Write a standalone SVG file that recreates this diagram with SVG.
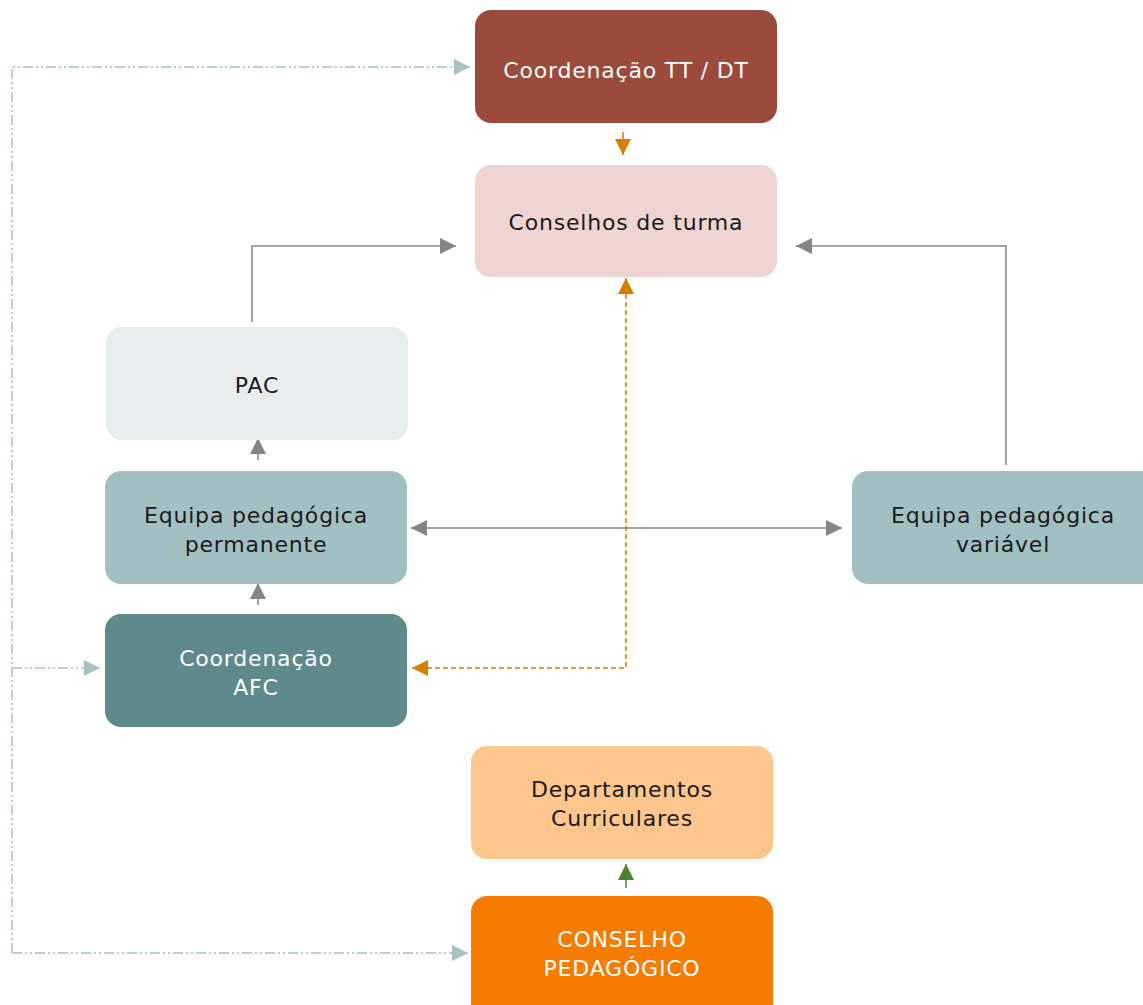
<svg xmlns="http://www.w3.org/2000/svg" width="1143" height="1005" viewBox="0 0 1143 1005">
<defs>
<style>
.t{font-family:"DejaVu Sans","Liberation Sans",sans-serif;font-size:22px;letter-spacing:0.8px;text-anchor:middle}
.w{fill:#ffffff}
.d{fill:#1a1a1a}
.g{fill:none;stroke:#858585;stroke-width:1.5}
.b{fill:none;stroke:#a7c2c3;stroke-width:1.5;stroke-dasharray:10 3 2 3 2 3}
.o{fill:none;stroke:#d47f00;stroke-width:1.5;stroke-dasharray:5 3}
</style>
<marker id="agl" viewBox="0 0 16 16" refX="16" refY="8" markerWidth="16" markerHeight="16" markerUnits="userSpaceOnUse" orient="auto-start-reverse"><path d="M0,0 L16,8 L0,16 z" fill="#858585"/></marker>
<marker id="ab" viewBox="0 0 16 16" refX="16" refY="8" markerWidth="16" markerHeight="16" markerUnits="userSpaceOnUse" orient="auto"><path d="M0,0 L16,8 L0,16 z" fill="#a7c2c3"/></marker>
<marker id="ao" viewBox="0 0 16 16" refX="16" refY="8" markerWidth="16" markerHeight="16" markerUnits="userSpaceOnUse" orient="auto-start-reverse"><path d="M0,0 L16,8 L0,16 z" fill="#d47f00"/></marker>
<marker id="agr" viewBox="0 0 16 16" refX="16" refY="8" markerWidth="16" markerHeight="16" markerUnits="userSpaceOnUse" orient="auto"><path d="M0,0 L16,8 L0,16 z" fill="#4e8030"/></marker>
</defs>
<rect width="1143" height="1005" fill="#ffffff"/>
<g id="connectors">
<path class="b" d="M12,953 V67 H470" marker-end="url(#ab)"/>
<path class="b" d="M12,668 H100" marker-end="url(#ab)"/>
<path class="b" d="M12,953 H468" marker-end="url(#ab)"/>
<path d="M623,132 V155" fill="none" stroke="#d47f00" stroke-width="1.5" marker-end="url(#ao)"/>
<path class="g" d="M252,322 V246 H456" marker-end="url(#agl)"/>
<path class="g" d="M1006,465 V246 H796" marker-end="url(#agl)"/>
<path class="g" d="M258,460 V438" marker-end="url(#agl)"/>
<path class="g" d="M258,605 V583" marker-end="url(#agl)"/>
<path class="g" d="M411,528 H842" marker-start="url(#agl)" marker-end="url(#agl)"/>
<path class="o" d="M626,278 V668 H412" marker-start="url(#ao)" marker-end="url(#ao)"/>
<path d="M626,888 V864" fill="none" stroke="#4e8030" stroke-width="1.5" marker-end="url(#agr)"/>
</g>
<g id="n-coord-tt"><rect x="475" y="10" width="302" height="113" rx="16" fill="#9b4a3c"/><text class="t w" x="626" y="78">Coordenação TT / DT</text></g>
<g id="n-conselhos"><rect x="475" y="165" width="302" height="112" rx="16" fill="#efd5d2"/><text class="t d" x="626" y="230">Conselhos de turma</text></g>
<g id="n-pac"><rect x="106" y="327" width="302" height="113" rx="16" fill="#e8eeee"/><text class="t d" x="257" y="393">PAC</text></g>
<g id="n-perm"><rect x="105" y="471" width="302" height="113" rx="16" fill="#a2c0c1"/><text class="t d" x="256" y="523">Equipa pedagógica</text><text class="t d" x="256" y="552">permanente</text></g>
<g id="n-var"><rect x="852" y="471" width="310" height="113" rx="16" fill="#a2c0c1"/><text class="t d" x="1003" y="523">Equipa pedagógica</text><text class="t d" x="1003" y="552">variável</text></g>
<g id="n-afc"><rect x="105" y="614" width="302" height="113" rx="16" fill="#5e8a8b"/><text class="t w" x="256" y="666">Coordenação</text><text class="t w" x="256" y="695">AFC</text></g>
<g id="n-dep"><rect x="471" y="746" width="302" height="113" rx="16" fill="#fdc68c"/><text class="t d" x="622" y="797">Departamentos</text><text class="t d" x="622" y="826">Curriculares</text></g>
<g id="n-cp"><rect x="471" y="896" width="302" height="125" rx="16" fill="#f57c00"/><text class="t w" x="622" y="947">CONSELHO</text><text class="t w" x="622" y="976">PEDAGÓGICO</text></g>
</svg>
